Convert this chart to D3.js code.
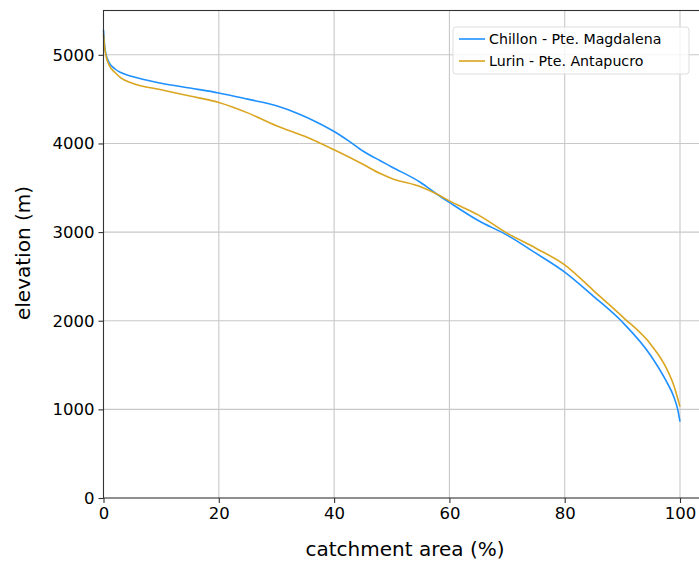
<!DOCTYPE html>
<html>
<head>
<meta charset="utf-8">
<script src="https://cdn.jsdelivr.net/npm/d3@7"></script>
<style>
  body { margin: 0; background: #fff; }
  text { font-family: "DejaVu Sans", sans-serif; fill: #000; }
</style>
</head>
<body>
<div id="container"></div>
<script>
// datos: área acumulada (%) vs elevación (m)
const chillonArea = [0, 0.2, 0.5, 1, 2, 3, 5, 10, 15, 20, 25, 30, 34, 37, 40, 42.5, 45, 48, 50, 55, 57.8, 60, 65, 70, 75, 80, 85, 90, 95, 97.5, 99, 99.6, 100];
const chillonElev = [5280, 5100, 4990, 4910, 4840, 4800, 4755, 4680, 4625, 4570, 4500, 4425, 4330, 4240, 4135, 4030, 3915, 3805, 3735, 3560, 3430, 3335, 3130, 2966, 2762, 2548, 2275, 1985, 1600, 1332, 1129, 1000, 861];

const lurinArea = [0, 0.2, 0.5, 1, 2, 3, 5, 10, 15, 20, 25, 30, 35, 40, 45, 48, 50, 55, 57.8, 60, 65, 70, 75, 80, 85, 90, 95, 97.5, 99, 100];
const lurinElev = [5230, 5080, 4970, 4880, 4800, 4740, 4680, 4605, 4535, 4462, 4345, 4200, 4078, 3928, 3765, 3660, 3605, 3512, 3430, 3352, 3194, 2988, 2818, 2630, 2340, 2047, 1727, 1482, 1256, 1030];

const seriesNames = ['Chillon - Pte. Magdalena', 'Lurin - Pte. Antapucro'];
const seriesColors = ['#1e90ff', '#daa520'];

const xTicks = [0, 20, 40, 60, 80, 100];
const yTicks = [0, 1000, 2000, 3000, 4000, 5000];

const width = 699, height = 561;
const mLeft = 103.5, mRight = 720, mTop = 10.5, mBottom = 498;

const svg = d3.select('#container').append('svg')
  .attr('width', width).attr('height', height);

const x = d3.scaleLinear().domain([0, 100]).range([mLeft, 680]);
const y = d3.scaleLinear().domain([0, 5500]).range([mBottom, mTop]);

// grilla
svg.append('g').selectAll('line').data(xTicks.slice(1)).enter().append('line')
  .attr('x1', d => x(d)).attr('x2', d => x(d))
  .attr('y1', mTop).attr('y2', mBottom)
  .attr('stroke', '#c8c8c8').attr('stroke-width', 1.1);
svg.append('g').selectAll('line').data(yTicks.slice(1)).enter().append('line')
  .attr('x1', mLeft).attr('x2', mRight)
  .attr('y1', d => y(d)).attr('y2', d => y(d))
  .attr('stroke', '#c8c8c8').attr('stroke-width', 1.1);

// curvas
const series = [
  chillonArea.map((a, i) => [a, chillonElev[i]]),
  lurinArea.map((a, i) => [a, lurinElev[i]])
];
const line = d3.line().x(d => x(d[0])).y(d => y(d[1])).curve(d3.curveMonotoneX);
series.forEach((s, i) => {
  svg.append('path').datum(s)
    .attr('fill', 'none')
    .attr('stroke', seriesColors[i])
    .attr('stroke-width', 1.6)
    .attr('d', line);
});

// marco
svg.append('rect')
  .attr('x', mLeft).attr('y', mTop)
  .attr('width', mRight - mLeft).attr('height', mBottom - mTop)
  .attr('fill', 'none').attr('stroke', '#333').attr('stroke-width', 1.1);

// ejes
const xAxis = svg.append('g').attr('transform', `translate(0,${mBottom})`)
  .call(d3.axisBottom(x).tickValues(xTicks).tickSize(5).tickPadding(4).tickFormat(d3.format('d')));
const yAxis = svg.append('g').attr('transform', `translate(${mLeft},0)`)
  .call(d3.axisLeft(y).tickValues(yTicks).tickSize(5).tickPadding(4).tickFormat(d3.format('d')));
[xAxis, yAxis].forEach(g => {
  g.select('.domain').remove();
  g.selectAll('.tick line').attr('stroke', '#333').attr('stroke-width', 1.1);
  g.selectAll('.tick text').style('font-family', '"DejaVu Sans", sans-serif').style('font-size', '16.5px').attr('fill', '#000');
});

// títulos de ejes
svg.append('text')
  .attr('x', 405).attr('y', 556)
  .attr('text-anchor', 'middle')
  .style('font-size', '20px')
  .text('catchment area (%)');
svg.append('text')
  .attr('transform', 'translate(30,253) rotate(-90)')
  .attr('text-anchor', 'middle')
  .style('font-size', '20px')
  .text('elevation (m)');

// leyenda
const legend = svg.append('g');
legend.append('rect')
  .attr('x', 453).attr('y', 27).attr('width', 236).attr('height', 47)
  .attr('rx', 3).attr('fill', '#fff').attr('fill-opacity', 0.8)
  .attr('stroke', '#ddd').attr('stroke-width', 1);
seriesNames.forEach((n, i) => {
  const yy = 39 + i * 22;
  legend.append('line')
    .attr('x1', 459).attr('x2', 485).attr('y1', yy).attr('y2', yy)
    .attr('stroke', seriesColors[i]).attr('stroke-width', 1.6);
  legend.append('text')
    .attr('x', 489).attr('y', yy + 5)
    .style('font-size', '14.2px')
    .text(n);
});
</script>
</body>
</html>
